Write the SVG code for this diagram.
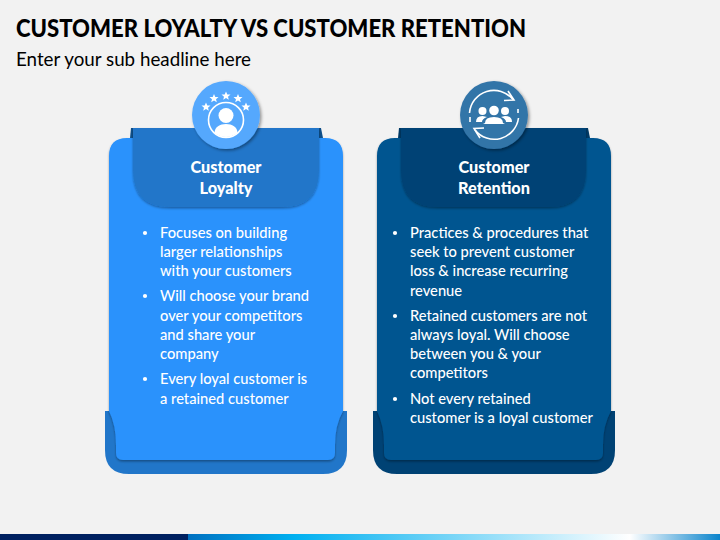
<svg xmlns="http://www.w3.org/2000/svg" width="720" height="540" viewBox="0 0 720 540">
<style>
text{font-family:Lato,"Open Sans",sans-serif;fill:#fff}
.t{fill:#000}
.h{font-weight:900;font-size:17.5px;text-anchor:middle}
.b{font-size:14.7px;font-weight:500}
.w{fill:#fff}
.ws{fill:none;stroke:#fff;stroke-width:1.6}
</style>
<defs>
<linearGradient id="g" x1="0" x2="1" y1="0" y2="0">
<stop offset="0" stop-color="#0070c0"/><stop offset="0.2" stop-color="#00b0f0"/><stop offset="0.83" stop-color="#fff"/><stop offset="1" stop-color="#0a84cc"/>
</linearGradient>
<filter id="s" x="-20%" y="-20%" width="140%" height="140%"><feDropShadow dx="1.5" dy="1.5" stdDeviation="1.5" flood-color="#000" flood-opacity="0.4"/></filter>
<filter id="s2" x="-10%" y="-10%" width="120%" height="125%"><feDropShadow dx="0" dy="1.5" stdDeviation="1.2" flood-color="#000" flood-opacity="0.35"/></filter>
<polygon id="star" points="0,-4.500 1.300,-1.500 4.500,-1.400 2,0.700 2.800,3.800 0,2 -2.800,3.800 -2,0.700 -4.500,-1.400 -1.300,-1.500"/>
<path id="person" d="M-11.500,9 C-11.500,3 -6,0 0,0 C6,0 11.500,3 11.500,9 Q6,13 0,13 Q-6,13 -11.500,9 Z"/>
</defs>
<rect width="720" height="540" fill="#f2f2f2"/>
<g id="title">
<text class="t" x="16" y="37" font-size="24.5" font-weight="900" textLength="510" lengthAdjust="spacingAndGlyphs">CUSTOMER LOYALTY VS CUSTOMER RETENTION</text>
<text class="t" x="16" y="66" font-size="18.3" textLength="235" lengthAdjust="spacingAndGlyphs">Enter your sub headline here</text>
</g>
<g id="card-loyalty">
<path d="M105,411 H347 V450 Q347,474 323,474 H129 Q105,474 105,450 Z" fill="#2176c9"/>
<path d="M109,156 Q109,138 127,138 H325 Q343,138 343,156 V411 Q335,425 335,445 V453 Q335,460 328,460 H123 Q116,460 116,453 V445 Q116,425 109,411 Z" fill="#2a92fc" filter="url(#s2)"/>
<polygon points="131,128 133,128 133,138 130,138" fill="#0e4f8a"/>
<polygon points="319,128 321,128 323,138 319,138" fill="#0e4f8a"/>
<path d="M133,128 H319 V170 Q319,207 282,207 H170 Q133,207 133,170 Z" fill="#2176c9" filter="url(#s2)"/>
<text class="h" x="226" y="173" textLength="71" lengthAdjust="spacingAndGlyphs">Customer</text>
<text class="h" x="226" y="194" textLength="53" lengthAdjust="spacingAndGlyphs">Loyalty</text>
<g class="b">
<circle class="w" cx="145" cy="233" r="2.1"/><text x="160" y="238">Focuses on building</text>
<text x="160" y="257">larger relationships</text>
<text x="160" y="276">with your customers</text>
<circle class="w" cx="145" cy="296" r="2.1"/><text x="160" y="301">Will choose your brand</text>
<text x="160" y="321">over your competitors</text>
<text x="160" y="340">and share your</text>
<text x="160" y="359">company</text>
<circle class="w" cx="145" cy="379" r="2.1"/><text x="160" y="384">Every loyal customer is</text>
<text x="160" y="404">a retained customer</text>
</g>
<circle cx="226" cy="115" r="34" fill="#55a8fd" filter="url(#s)"/>
<circle class="ws" cx="226" cy="120" r="17.500"/>
<circle class="w" cx="226" cy="115.500" r="7.500"/>
<use class="w" href="#person" x="226" y="124"/>
<use class="w" href="#star" x="206" y="107"/><use class="w" href="#star" x="214" y="98.500"/><use class="w" href="#star" x="226" y="96"/><use class="w" href="#star" x="238" y="98.500"/><use class="w" href="#star" x="246" y="107"/>
</g>
<g id="card-retention">
<path d="M373,411 H615 V450 Q615,474 591,474 H397 Q373,474 373,450 Z" fill="#004274"/>
<path d="M377,156 Q377,138 395,138 H593 Q611,138 611,156 V411 Q603,425 603,445 V453 Q603,460 596,460 H391 Q384,460 384,453 V445 Q384,425 377,411 Z" fill="#005590" filter="url(#s2)"/>
<polygon points="399,128 401,128 401,138 398,138" fill="#003a66"/>
<polygon points="586,128 588,128 590,138 586,138" fill="#003a66"/>
<path d="M401,128 H586 V170 Q586,207 549,207 H438 Q401,207 401,170 Z" fill="#004274" filter="url(#s2)"/>
<text class="h" x="494" y="173" textLength="71" lengthAdjust="spacingAndGlyphs">Customer</text>
<text class="h" x="494" y="194" textLength="72" lengthAdjust="spacingAndGlyphs">Retention</text>
<g class="b">
<circle class="w" cx="395" cy="233" r="2.1"/><text x="410" y="238">Practices &amp; procedures that</text>
<text x="410" y="257">seek to prevent customer</text>
<text x="410" y="276">loss &amp; increase recurring</text>
<text x="410" y="296">revenue</text>
<circle class="w" cx="395" cy="316" r="2.1"/><text x="410" y="321">Retained customers are not</text>
<text x="410" y="340">always loyal. Will choose</text>
<text x="410" y="359">between you &amp; your</text>
<text x="410" y="378">competitors</text>
<circle class="w" cx="395" cy="399" r="2.1"/><text x="410" y="404">Not every retained</text>
<text x="410" y="423">customer is a loyal customer</text>
</g>
<circle cx="494" cy="115" r="34" fill="#3274a8" filter="url(#s)"/>
<path class="ws" d="M469.500,113 A24.500,24.500 0 0 1 513,99.500"/>
<path class="ws" d="M518,109 V113"/>
<path class="ws" d="M518.500,118 A24.500,24.500 0 0 1 475,130"/>
<path class="ws" d="M470,117 V122"/>
<path class="ws" d="M508,91 L514,100 L504,100.500"/>
<path class="ws" d="M480,138 L474,128.500 L484,128"/>
<circle class="w" cx="494" cy="110.500" r="4.800"/><path class="w" d="M485,123 Q485,117 494,117 Q503,117 503,123 L505,124 H483 Z"/>
<circle class="w" cx="482.500" cy="111" r="4"/><path class="w" d="M476,122 Q476,116 482.500,116 L487,117 Q482,119 482,122 Z"/>
<circle class="w" cx="505" cy="111" r="4"/><path class="w" d="M512,122 Q512,116 505,116 L501,117 Q506,119 506,122 Z"/>
</g>
<g id="footer">
<rect x="0" y="534" width="188" height="6" fill="#002060"/>
<rect x="188" y="534" width="532" height="6" fill="url(#g)"/>
</g>
</svg>
